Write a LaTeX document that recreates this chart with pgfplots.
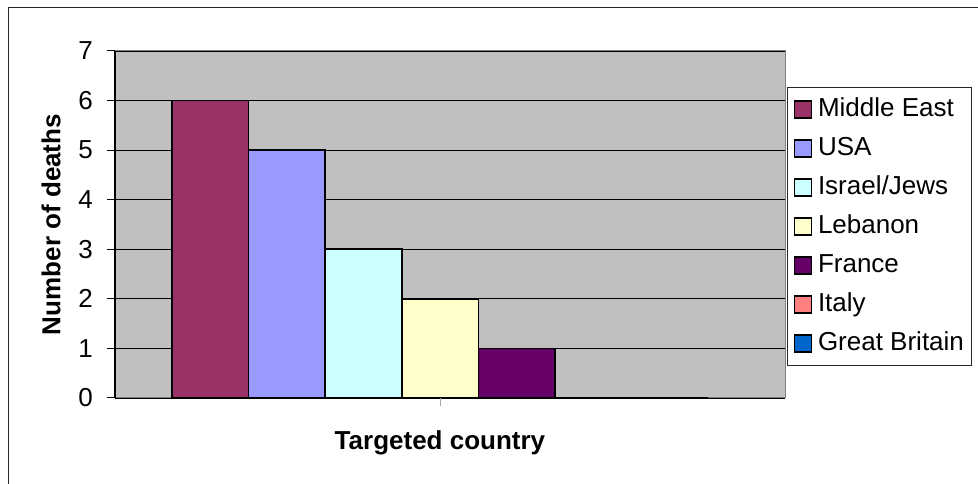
\documentclass[border=0pt]{standalone}
\usepackage{fontspec}
\setmainfont{Liberation Sans}
\usepackage{pgfplots}
\pgfplotsset{compat=1.18}

\definecolor{cME}{HTML}{993366}
\definecolor{cUSA}{HTML}{9999FF}
\definecolor{cISR}{HTML}{CCFFFF}
\definecolor{cLEB}{HTML}{FFFFCC}
\definecolor{cFRA}{HTML}{660066}
\definecolor{cITA}{HTML}{FF8080}
\definecolor{cGB}{HTML}{0066CC}
\definecolor{plotgray}{HTML}{C0C0C0}

\newcommand{\chartfont}{\fontsize{26}{31}\selectfont}

\begin{document}
\chartfont
\begin{tikzpicture}
\useasboundingbox (0,0) rectangle (978pt,484pt);
% chart frame
\draw[line width=1pt, black!85] (8pt,-2pt) -- (8pt,476pt) -- (980pt,476pt);
\begin{axis}[
  at={(115pt,86pt)}, anchor=south west,
  scale only axis, width=670pt, height=347pt,
  xmin=0, xmax=670, ymin=0, ymax=7,
  ybar=0pt, bar width=76.6,
  axis background/.style={fill=plotgray},
  axis line style={draw=black!50, line width=1pt},
  ymajorgrids, major grid style={black, line width=0.9pt},
  ytick={0,...,7},
  xtick={325}, xticklabels={},
  tick align=outside, tick pos=left,
  major tick length=8pt,
  y tick style={black, line width=1pt},
  x tick style={black!35, line width=0.6pt},
  /pgf/number format/assume math mode=true,
  ticklabel style={font=\chartfont},
  yticklabel style={anchor=east, inner sep=0pt, xshift=-14pt},
  xlabel={\bfseries Targeted country},
  ylabel={\bfseries Number of deaths},
  xlabel style={at={(axis description cs:0.485,-0.130)}, anchor=center, font=\chartfont},
  ylabel style={at={(axis description cs:-0.0955,0.5)}, anchor=center, font=\chartfont},
  every axis plot/.append style={draw=black, line width=1.6pt},
  legend style={at={(1,1)}, anchor=north west, xshift=2pt, yshift=-36pt,
    draw=black!85, line width=1pt, fill=white,
    inner xsep=6pt, inner ysep=8pt, row sep=11pt,
    font=\chartfont,
    nodes={inner sep=2pt, text height=19pt, text depth=5pt}},
  legend cell align=left,
  legend image code/.code={\draw[#1, draw=black, line width=1.4pt] (0pt,-8.5pt) rectangle (17pt,8.5pt);
    \path (21pt,0pt);},
  after end axis/.code={\draw[black, line width=1.2pt] (rel axis cs:0,0) -- (rel axis cs:0,1);},
]
\addplot[fill=cME] coordinates {(325,6)};
\addplot[fill=cUSA] coordinates {(325,5)};
\addplot[fill=cISR] coordinates {(325,3)};
\addplot[fill=cLEB] coordinates {(325,2)};
\addplot[fill=cFRA] coordinates {(325,1)};
\addplot[fill=cITA] coordinates {(325,0)};
\addplot[fill=cGB] coordinates {(325,0)};
\legend{Middle East, USA, Israel/Jews, Lebanon, France, Italy, Great Britain}
\end{axis}
\end{tikzpicture}
\end{document}
